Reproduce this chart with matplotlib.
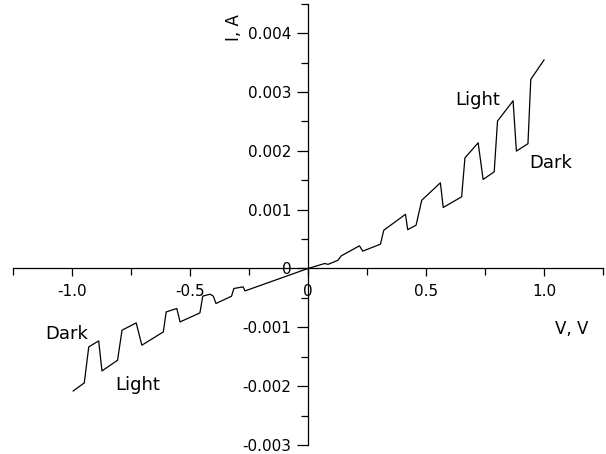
import matplotlib
matplotlib.use("Agg")
import matplotlib.pyplot as plt
from matplotlib.ticker import FixedLocator

# I-V curve, light/dark switching (V in volts, I in mA -> converted to A)
v_neg = [-0.995, -0.948, -0.929, -0.887, -0.873, -0.807, -0.788, -0.728, -0.704,
         -0.613, -0.601, -0.556, -0.542, -0.458, -0.446, -0.415, -0.401, -0.390,
         -0.324, -0.314, -0.275, -0.267]
i_neg = [-2.082, -1.945, -1.333, -1.231, -1.741, -1.560, -1.049, -0.925, -1.304,
         -1.078, -0.738, -0.680, -0.908, -0.755, -0.470, -0.437, -0.471, -0.595,
         -0.471, -0.340, -0.313, -0.381]
v_pos = [0.0, 0.071, 0.085, 0.127, 0.141, 0.218, 0.232, 0.307, 0.321, 0.413,
         0.4225, 0.458, 0.482, 0.561, 0.573, 0.651, 0.665, 0.721, 0.742, 0.789,
         0.803, 0.869, 0.883, 0.932, 0.944, 1.0]
i_pos = [0.0, 0.085, 0.070, 0.140, 0.215, 0.385, 0.295, 0.413, 0.650, 0.920,
         0.660, 0.736, 1.160, 1.456, 1.037, 1.218, 1.880, 2.136, 1.513, 1.643,
         2.505, 2.850, 1.995, 2.120, 3.214, 3.543]

x_ticks = [-1.0, -0.5, 0.0, 0.5, 1.0]
x_labels = ["-1.0", "-0.5", "0", "0.5", "1.0"]
y_ticks = [-0.003, -0.002, -0.001, 0.0, 0.001, 0.002, 0.003, 0.004]
y_labels = ["-0.003", "-0.002", "-0.001", "0", "0.001", "0.002", "0.003", "0.004"]

volts = v_neg + v_pos
amps = [i / 1000 for i in i_neg + i_pos]

fig = plt.figure(figsize=(6.06, 4.54), dpi=100)
ax = fig.add_axes([13 / 606, 9 / 454, 590 / 606, 441.3 / 454])

ax.plot(volts, amps, color="black", linewidth=0.9)

ax.set_xlim(-1.25, 1.25)
ax.set_ylim(-0.003, 0.0045)

for side in ["top", "right"]:
    ax.spines[side].set_visible(False)
ax.spines["left"].set_position(("data", 0))
ax.spines["bottom"].set_position(("data", 0))
ax.spines["left"].set_linewidth(0.9)
ax.spines["bottom"].set_linewidth(0.9)

ax.xaxis.set_major_locator(FixedLocator(x_ticks))
ax.set_xticklabels(x_labels)
ax.xaxis.set_minor_locator(FixedLocator([-1.25, -0.75, -0.25, 0.25, 0.75, 1.25]))
ax.yaxis.set_major_locator(FixedLocator(y_ticks))
ax.set_yticklabels(y_labels)
ax.yaxis.set_minor_locator(FixedLocator([-0.0025, -0.0015, -0.0005, 0.0005,
                                         0.0015, 0.0025, 0.0035, 0.0045]))

ax.tick_params(axis="x", which="major", direction="out", length=6, width=0.9,
               pad=5, labelsize=11)
ax.tick_params(axis="x", which="minor", direction="out", length=5, width=0.9)
ax.tick_params(axis="y", which="major", direction="out", length=8, width=0.9,
               pad=4, labelsize=11)
ax.tick_params(axis="y", which="minor", direction="out", length=5, width=0.9)

ax.text(0.717, 0.00286, "Light", fontsize=13, ha="center", va="center")
ax.text(1.029, 0.00179, "Dark", fontsize=13, ha="center", va="center")
ax.text(-1.024, -0.00112, "Dark", fontsize=13, ha="center", va="center")
ax.text(-0.723, -0.00198, "Light", fontsize=13, ha="center", va="center")
ax.text(1.118, -0.00103, "V, V", fontsize=12, ha="center", va="center")
ax.text(-0.314, 0.00409, "I, A", fontsize=12, ha="center", va="center",
        rotation=90)

fig.savefig("out.png", dpi=100)
